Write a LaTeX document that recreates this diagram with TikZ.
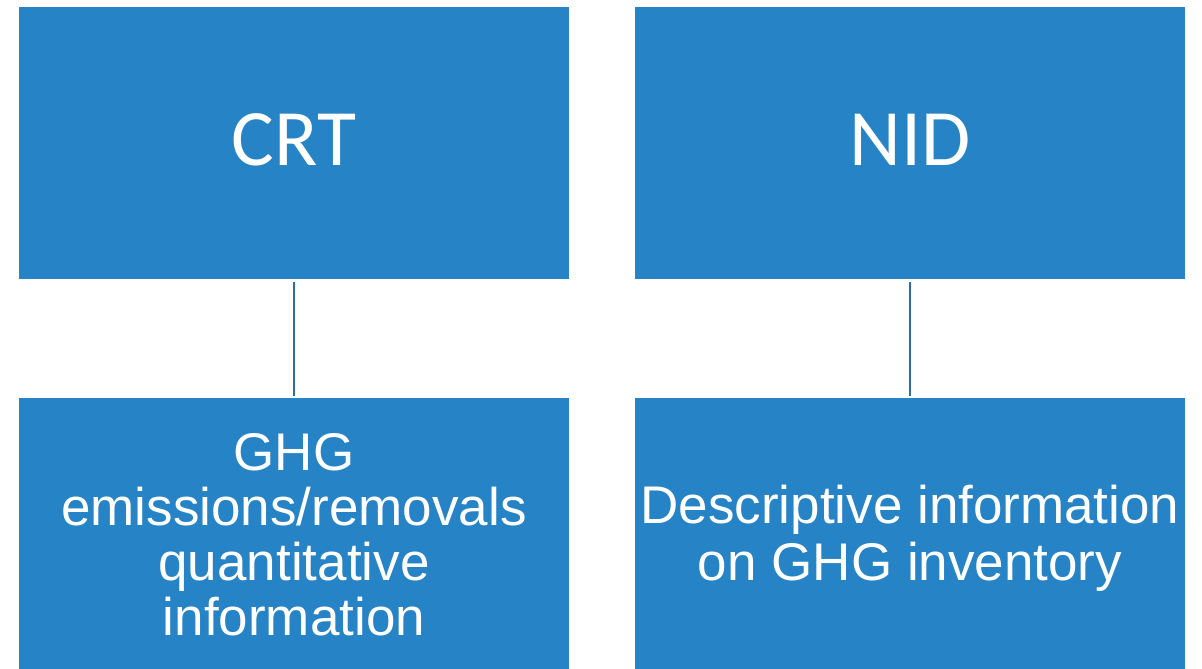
\documentclass[tikz,border=0pt]{standalone}
\usepackage{fontspec}
\setmainfont{Liberation Sans}
\newfontfamily\headfont{Carlito}
\definecolor{boxblue}{HTML}{2683C6}
\definecolor{linkblue}{HTML}{2B6CA3}
\tikzset{
  panel/.style={fill=boxblue, draw=none, minimum width=550pt, inner sep=0pt, anchor=north west},
  headtext/.style={text=white, font=\headfont\fontsize{80}{90}\selectfont, anchor=base, inner sep=0pt},
  bodytext/.style={text=white, font=\fontsize{53}{55}\selectfont, align=center, anchor=base, inner sep=0pt},
  link/.style={draw=linkblue, line width=2.2pt}
}
\begin{document}
\begin{tikzpicture}[x=1pt, y=-1pt]
  \useasboundingbox (0,0) rectangle (1202,669);
  % upper row of panels
  \node[panel, minimum height=272pt] (crt) at (19,7) {};
  \node[panel, minimum height=272pt] (nid) at (635,7) {};
  % lower row of panels, running off the bottom edge
  \node[panel, minimum height=271pt] (ghg) at (19,398) {};
  \node[panel, minimum height=271pt] (desc) at (635,398) {};
  % panel titles
  \node[headtext] (crtlabel) at (294,165) {CRT};
  \node[headtext] (nidlabel) at (910,165) {NID};
  % panel descriptions (base anchor sits on the last line)
  \node[bodytext] (ghglabel) at (294,635) {GHG\\emissions/removals\\quantitative\\information};
  \node[bodytext, font=\fontsize{53}{57}\selectfont] (desclabel) at (910,580) {Descriptive information\\on GHG inventory};
  % connectors between rows
  \draw[link] ([yshift=-3pt]crt.south) -- ([yshift=2pt]ghg.north);
  \draw[link] ([yshift=-3pt]nid.south) -- ([yshift=2pt]desc.north);
\end{tikzpicture}
\end{document}
